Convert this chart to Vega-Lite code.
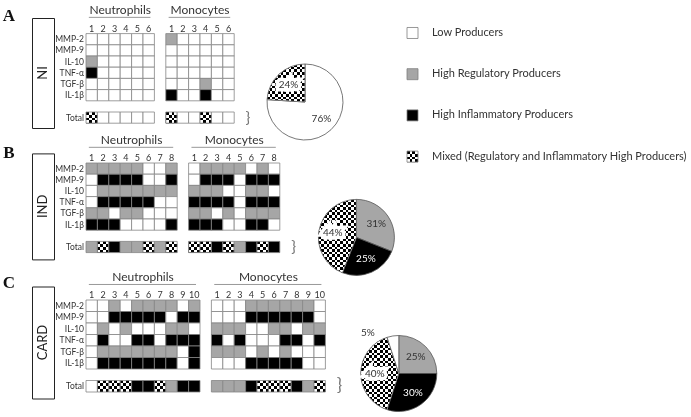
{
"$schema": "https://vega.github.io/schema/vega-lite/v6.json",
"padding": 0,
"config": {"view": {"stroke": null}, "font": "Lato", "text": {"font": "Lato"}},
"datasets": {
"legend": [{"v":"L","label":"Low Producers"},{"v":"R","label":"High Regulatory Producers"},{"v":"I","label":"High Inflammatory Producers"},{"v":"M","label":"Mixed (Regulatory and Inflammatory High Producers)"}],
"pies": [{"p":"A","v":"L","pct":0.76,"o":1},{"p":"A","v":"M","pct":0.24,"o":2},
{"p":"B","v":"R","pct":0.31,"o":1},{"p":"B","v":"I","pct":0.25,"o":2},{"p":"B","v":"M","pct":0.44,"o":3},
{"p":"C","v":"R","pct":0.25,"o":1},{"p":"C","v":"I","pct":0.30,"o":2},{"p":"C","v":"M","pct":0.40,"o":3},{"p":"C","v":"L","pct":0.05,"o":4}],
"cols": [
{"p":"A","c":"N1","n":"1"},{"p":"A","c":"N2","n":"2"},{"p":"A","c":"N3","n":"3"},{"p":"A","c":"N4","n":"4"},{"p":"A","c":"N5","n":"5"},{"p":"A","c":"N6","n":"6"},
{"p":"A","c":"M1","n":"1"},{"p":"A","c":"M2","n":"2"},{"p":"A","c":"M3","n":"3"},{"p":"A","c":"M4","n":"4"},{"p":"A","c":"M5","n":"5"},{"p":"A","c":"M6","n":"6"},
{"p":"B","c":"N1","n":"1"},{"p":"B","c":"N2","n":"2"},{"p":"B","c":"N3","n":"3"},{"p":"B","c":"N4","n":"4"},{"p":"B","c":"N5","n":"5"},{"p":"B","c":"N6","n":"6"},{"p":"B","c":"N7","n":"7"},{"p":"B","c":"N8","n":"8"},
{"p":"B","c":"M1","n":"1"},{"p":"B","c":"M2","n":"2"},{"p":"B","c":"M3","n":"3"},{"p":"B","c":"M4","n":"4"},{"p":"B","c":"M5","n":"5"},{"p":"B","c":"M6","n":"6"},{"p":"B","c":"M7","n":"7"},{"p":"B","c":"M8","n":"8"},
{"p":"C","c":"N1","n":"1"},{"p":"C","c":"N2","n":"2"},{"p":"C","c":"N3","n":"3"},{"p":"C","c":"N4","n":"4"},{"p":"C","c":"N5","n":"5"},{"p":"C","c":"N6","n":"6"},{"p":"C","c":"N7","n":"7"},{"p":"C","c":"N8","n":"8"},{"p":"C","c":"N9","n":"9"},{"p":"C","c":"N10","n":"10"},
{"p":"C","c":"M1","n":"1"},{"p":"C","c":"M2","n":"2"},{"p":"C","c":"M3","n":"3"},{"p":"C","c":"M4","n":"4"},{"p":"C","c":"M5","n":"5"},{"p":"C","c":"M6","n":"6"},{"p":"C","c":"M7","n":"7"},{"p":"C","c":"M8","n":"8"},{"p":"C","c":"M9","n":"9"},{"p":"C","c":"M10","n":"10"}
],
"cells": [
{"p":"A","c":"N1","r":"MMP-2","v":"L"},{"p":"A","c":"N2","r":"MMP-2","v":"L"},{"p":"A","c":"N3","r":"MMP-2","v":"L"},{"p":"A","c":"N4","r":"MMP-2","v":"L"},{"p":"A","c":"N5","r":"MMP-2","v":"L"},{"p":"A","c":"N6","r":"MMP-2","v":"L"},
{"p":"A","c":"N1","r":"MMP-9","v":"L"},{"p":"A","c":"N2","r":"MMP-9","v":"L"},{"p":"A","c":"N3","r":"MMP-9","v":"L"},{"p":"A","c":"N4","r":"MMP-9","v":"L"},{"p":"A","c":"N5","r":"MMP-9","v":"L"},{"p":"A","c":"N6","r":"MMP-9","v":"L"},
{"p":"A","c":"N1","r":"IL-10","v":"R"},{"p":"A","c":"N2","r":"IL-10","v":"L"},{"p":"A","c":"N3","r":"IL-10","v":"L"},{"p":"A","c":"N4","r":"IL-10","v":"L"},{"p":"A","c":"N5","r":"IL-10","v":"L"},{"p":"A","c":"N6","r":"IL-10","v":"L"},
{"p":"A","c":"N1","r":"TNF-α","v":"I"},{"p":"A","c":"N2","r":"TNF-α","v":"L"},{"p":"A","c":"N3","r":"TNF-α","v":"L"},{"p":"A","c":"N4","r":"TNF-α","v":"L"},{"p":"A","c":"N5","r":"TNF-α","v":"L"},{"p":"A","c":"N6","r":"TNF-α","v":"L"},
{"p":"A","c":"N1","r":"TGF-β","v":"L"},{"p":"A","c":"N2","r":"TGF-β","v":"L"},{"p":"A","c":"N3","r":"TGF-β","v":"L"},{"p":"A","c":"N4","r":"TGF-β","v":"L"},{"p":"A","c":"N5","r":"TGF-β","v":"L"},{"p":"A","c":"N6","r":"TGF-β","v":"L"},
{"p":"A","c":"N1","r":"IL-1β","v":"L"},{"p":"A","c":"N2","r":"IL-1β","v":"L"},{"p":"A","c":"N3","r":"IL-1β","v":"L"},{"p":"A","c":"N4","r":"IL-1β","v":"L"},{"p":"A","c":"N5","r":"IL-1β","v":"L"},{"p":"A","c":"N6","r":"IL-1β","v":"L"},
{"p":"A","c":"N1","r":"Total","v":"M"},{"p":"A","c":"N2","r":"Total","v":"L"},{"p":"A","c":"N3","r":"Total","v":"L"},{"p":"A","c":"N4","r":"Total","v":"L"},{"p":"A","c":"N5","r":"Total","v":"L"},{"p":"A","c":"N6","r":"Total","v":"L"},
{"p":"A","c":"M1","r":"MMP-2","v":"R"},{"p":"A","c":"M2","r":"MMP-2","v":"L"},{"p":"A","c":"M3","r":"MMP-2","v":"L"},{"p":"A","c":"M4","r":"MMP-2","v":"L"},{"p":"A","c":"M5","r":"MMP-2","v":"L"},{"p":"A","c":"M6","r":"MMP-2","v":"L"},
{"p":"A","c":"M1","r":"MMP-9","v":"L"},{"p":"A","c":"M2","r":"MMP-9","v":"L"},{"p":"A","c":"M3","r":"MMP-9","v":"L"},{"p":"A","c":"M4","r":"MMP-9","v":"L"},{"p":"A","c":"M5","r":"MMP-9","v":"L"},{"p":"A","c":"M6","r":"MMP-9","v":"L"},
{"p":"A","c":"M1","r":"IL-10","v":"L"},{"p":"A","c":"M2","r":"IL-10","v":"L"},{"p":"A","c":"M3","r":"IL-10","v":"L"},{"p":"A","c":"M4","r":"IL-10","v":"L"},{"p":"A","c":"M5","r":"IL-10","v":"L"},{"p":"A","c":"M6","r":"IL-10","v":"L"},
{"p":"A","c":"M1","r":"TNF-α","v":"L"},{"p":"A","c":"M2","r":"TNF-α","v":"L"},{"p":"A","c":"M3","r":"TNF-α","v":"L"},{"p":"A","c":"M4","r":"TNF-α","v":"L"},{"p":"A","c":"M5","r":"TNF-α","v":"L"},{"p":"A","c":"M6","r":"TNF-α","v":"L"},
{"p":"A","c":"M1","r":"TGF-β","v":"L"},{"p":"A","c":"M2","r":"TGF-β","v":"L"},{"p":"A","c":"M3","r":"TGF-β","v":"L"},{"p":"A","c":"M4","r":"TGF-β","v":"R"},{"p":"A","c":"M5","r":"TGF-β","v":"L"},{"p":"A","c":"M6","r":"TGF-β","v":"L"},
{"p":"A","c":"M1","r":"IL-1β","v":"I"},{"p":"A","c":"M2","r":"IL-1β","v":"L"},{"p":"A","c":"M3","r":"IL-1β","v":"L"},{"p":"A","c":"M4","r":"IL-1β","v":"I"},{"p":"A","c":"M5","r":"IL-1β","v":"L"},{"p":"A","c":"M6","r":"IL-1β","v":"L"},
{"p":"A","c":"M1","r":"Total","v":"M"},{"p":"A","c":"M2","r":"Total","v":"L"},{"p":"A","c":"M3","r":"Total","v":"L"},{"p":"A","c":"M4","r":"Total","v":"M"},{"p":"A","c":"M5","r":"Total","v":"L"},{"p":"A","c":"M6","r":"Total","v":"L"},
{"p":"B","c":"N1","r":"MMP-2","v":"R"},{"p":"B","c":"N2","r":"MMP-2","v":"R"},{"p":"B","c":"N3","r":"MMP-2","v":"R"},{"p":"B","c":"N4","r":"MMP-2","v":"R"},{"p":"B","c":"N5","r":"MMP-2","v":"R"},{"p":"B","c":"N6","r":"MMP-2","v":"L"},{"p":"B","c":"N7","r":"MMP-2","v":"L"},{"p":"B","c":"N8","r":"MMP-2","v":"R"},
{"p":"B","c":"N1","r":"MMP-9","v":"L"},{"p":"B","c":"N2","r":"MMP-9","v":"I"},{"p":"B","c":"N3","r":"MMP-9","v":"I"},{"p":"B","c":"N4","r":"MMP-9","v":"I"},{"p":"B","c":"N5","r":"MMP-9","v":"I"},{"p":"B","c":"N6","r":"MMP-9","v":"L"},{"p":"B","c":"N7","r":"MMP-9","v":"L"},{"p":"B","c":"N8","r":"MMP-9","v":"I"},
{"p":"B","c":"N1","r":"IL-10","v":"L"},{"p":"B","c":"N2","r":"IL-10","v":"R"},{"p":"B","c":"N3","r":"IL-10","v":"R"},{"p":"B","c":"N4","r":"IL-10","v":"R"},{"p":"B","c":"N5","r":"IL-10","v":"R"},{"p":"B","c":"N6","r":"IL-10","v":"R"},{"p":"B","c":"N7","r":"IL-10","v":"R"},{"p":"B","c":"N8","r":"IL-10","v":"R"},
{"p":"B","c":"N1","r":"TNF-α","v":"L"},{"p":"B","c":"N2","r":"TNF-α","v":"I"},{"p":"B","c":"N3","r":"TNF-α","v":"I"},{"p":"B","c":"N4","r":"TNF-α","v":"I"},{"p":"B","c":"N5","r":"TNF-α","v":"I"},{"p":"B","c":"N6","r":"TNF-α","v":"I"},{"p":"B","c":"N7","r":"TNF-α","v":"L"},{"p":"B","c":"N8","r":"TNF-α","v":"L"},
{"p":"B","c":"N1","r":"TGF-β","v":"R"},{"p":"B","c":"N2","r":"TGF-β","v":"R"},{"p":"B","c":"N3","r":"TGF-β","v":"L"},{"p":"B","c":"N4","r":"TGF-β","v":"R"},{"p":"B","c":"N5","r":"TGF-β","v":"R"},{"p":"B","c":"N6","r":"TGF-β","v":"L"},{"p":"B","c":"N7","r":"TGF-β","v":"L"},{"p":"B","c":"N8","r":"TGF-β","v":"L"},
{"p":"B","c":"N1","r":"IL-1β","v":"I"},{"p":"B","c":"N2","r":"IL-1β","v":"I"},{"p":"B","c":"N3","r":"IL-1β","v":"I"},{"p":"B","c":"N4","r":"IL-1β","v":"L"},{"p":"B","c":"N5","r":"IL-1β","v":"L"},{"p":"B","c":"N6","r":"IL-1β","v":"L"},{"p":"B","c":"N7","r":"IL-1β","v":"L"},{"p":"B","c":"N8","r":"IL-1β","v":"I"},
{"p":"B","c":"N1","r":"Total","v":"R"},{"p":"B","c":"N2","r":"Total","v":"M"},{"p":"B","c":"N3","r":"Total","v":"I"},{"p":"B","c":"N4","r":"Total","v":"R"},{"p":"B","c":"N5","r":"Total","v":"R"},{"p":"B","c":"N6","r":"Total","v":"M"},{"p":"B","c":"N7","r":"Total","v":"R"},{"p":"B","c":"N8","r":"Total","v":"M"},
{"p":"B","c":"M1","r":"MMP-2","v":"L"},{"p":"B","c":"M2","r":"MMP-2","v":"R"},{"p":"B","c":"M3","r":"MMP-2","v":"R"},{"p":"B","c":"M4","r":"MMP-2","v":"R"},{"p":"B","c":"M5","r":"MMP-2","v":"R"},{"p":"B","c":"M6","r":"MMP-2","v":"L"},{"p":"B","c":"M7","r":"MMP-2","v":"R"},{"p":"B","c":"M8","r":"MMP-2","v":"L"},
{"p":"B","c":"M1","r":"MMP-9","v":"L"},{"p":"B","c":"M2","r":"MMP-9","v":"I"},{"p":"B","c":"M3","r":"MMP-9","v":"I"},{"p":"B","c":"M4","r":"MMP-9","v":"I"},{"p":"B","c":"M5","r":"MMP-9","v":"L"},{"p":"B","c":"M6","r":"MMP-9","v":"I"},{"p":"B","c":"M7","r":"MMP-9","v":"I"},{"p":"B","c":"M8","r":"MMP-9","v":"I"},
{"p":"B","c":"M1","r":"IL-10","v":"R"},{"p":"B","c":"M2","r":"IL-10","v":"R"},{"p":"B","c":"M3","r":"IL-10","v":"R"},{"p":"B","c":"M4","r":"IL-10","v":"L"},{"p":"B","c":"M5","r":"IL-10","v":"L"},{"p":"B","c":"M6","r":"IL-10","v":"R"},{"p":"B","c":"M7","r":"IL-10","v":"R"},{"p":"B","c":"M8","r":"IL-10","v":"L"},
{"p":"B","c":"M1","r":"TNF-α","v":"I"},{"p":"B","c":"M2","r":"TNF-α","v":"I"},{"p":"B","c":"M3","r":"TNF-α","v":"I"},{"p":"B","c":"M4","r":"TNF-α","v":"I"},{"p":"B","c":"M5","r":"TNF-α","v":"L"},{"p":"B","c":"M6","r":"TNF-α","v":"I"},{"p":"B","c":"M7","r":"TNF-α","v":"I"},{"p":"B","c":"M8","r":"TNF-α","v":"I"},
{"p":"B","c":"M1","r":"TGF-β","v":"R"},{"p":"B","c":"M2","r":"TGF-β","v":"R"},{"p":"B","c":"M3","r":"TGF-β","v":"L"},{"p":"B","c":"M4","r":"TGF-β","v":"R"},{"p":"B","c":"M5","r":"TGF-β","v":"L"},{"p":"B","c":"M6","r":"TGF-β","v":"R"},{"p":"B","c":"M7","r":"TGF-β","v":"R"},{"p":"B","c":"M8","r":"TGF-β","v":"R"},
{"p":"B","c":"M1","r":"IL-1β","v":"I"},{"p":"B","c":"M2","r":"IL-1β","v":"I"},{"p":"B","c":"M3","r":"IL-1β","v":"I"},{"p":"B","c":"M4","r":"IL-1β","v":"L"},{"p":"B","c":"M5","r":"IL-1β","v":"L"},{"p":"B","c":"M6","r":"IL-1β","v":"I"},{"p":"B","c":"M7","r":"IL-1β","v":"I"},{"p":"B","c":"M8","r":"IL-1β","v":"L"},
{"p":"B","c":"M1","r":"Total","v":"M"},{"p":"B","c":"M2","r":"Total","v":"M"},{"p":"B","c":"M3","r":"Total","v":"I"},{"p":"B","c":"M4","r":"Total","v":"M"},{"p":"B","c":"M5","r":"Total","v":"R"},{"p":"B","c":"M6","r":"Total","v":"I"},{"p":"B","c":"M7","r":"Total","v":"M"},{"p":"B","c":"M8","r":"Total","v":"I"},
{"p":"C","c":"N1","r":"MMP-2","v":"L"},{"p":"C","c":"N2","r":"MMP-2","v":"L"},{"p":"C","c":"N3","r":"MMP-2","v":"R"},{"p":"C","c":"N4","r":"MMP-2","v":"L"},{"p":"C","c":"N5","r":"MMP-2","v":"R"},{"p":"C","c":"N6","r":"MMP-2","v":"R"},{"p":"C","c":"N7","r":"MMP-2","v":"R"},{"p":"C","c":"N8","r":"MMP-2","v":"R"},{"p":"C","c":"N9","r":"MMP-2","v":"L"},{"p":"C","c":"N10","r":"MMP-2","v":"R"},
{"p":"C","c":"N1","r":"MMP-9","v":"L"},{"p":"C","c":"N2","r":"MMP-9","v":"L"},{"p":"C","c":"N3","r":"MMP-9","v":"I"},{"p":"C","c":"N4","r":"MMP-9","v":"I"},{"p":"C","c":"N5","r":"MMP-9","v":"I"},{"p":"C","c":"N6","r":"MMP-9","v":"I"},{"p":"C","c":"N7","r":"MMP-9","v":"I"},{"p":"C","c":"N8","r":"MMP-9","v":"L"},{"p":"C","c":"N9","r":"MMP-9","v":"I"},{"p":"C","c":"N10","r":"MMP-9","v":"I"},
{"p":"C","c":"N1","r":"IL-10","v":"L"},{"p":"C","c":"N2","r":"IL-10","v":"R"},{"p":"C","c":"N3","r":"IL-10","v":"L"},{"p":"C","c":"N4","r":"IL-10","v":"R"},{"p":"C","c":"N5","r":"IL-10","v":"L"},{"p":"C","c":"N6","r":"IL-10","v":"L"},{"p":"C","c":"N7","r":"IL-10","v":"L"},{"p":"C","c":"N8","r":"IL-10","v":"R"},{"p":"C","c":"N9","r":"IL-10","v":"R"},{"p":"C","c":"N10","r":"IL-10","v":"L"},
{"p":"C","c":"N1","r":"TNF-α","v":"L"},{"p":"C","c":"N2","r":"TNF-α","v":"I"},{"p":"C","c":"N3","r":"TNF-α","v":"L"},{"p":"C","c":"N4","r":"TNF-α","v":"L"},{"p":"C","c":"N5","r":"TNF-α","v":"I"},{"p":"C","c":"N6","r":"TNF-α","v":"I"},{"p":"C","c":"N7","r":"TNF-α","v":"L"},{"p":"C","c":"N8","r":"TNF-α","v":"I"},{"p":"C","c":"N9","r":"TNF-α","v":"I"},{"p":"C","c":"N10","r":"TNF-α","v":"I"},
{"p":"C","c":"N1","r":"TGF-β","v":"L"},{"p":"C","c":"N2","r":"TGF-β","v":"R"},{"p":"C","c":"N3","r":"TGF-β","v":"R"},{"p":"C","c":"N4","r":"TGF-β","v":"R"},{"p":"C","c":"N5","r":"TGF-β","v":"R"},{"p":"C","c":"N6","r":"TGF-β","v":"R"},{"p":"C","c":"N7","r":"TGF-β","v":"R"},{"p":"C","c":"N8","r":"TGF-β","v":"R"},{"p":"C","c":"N9","r":"TGF-β","v":"L"},{"p":"C","c":"N10","r":"TGF-β","v":"I"},
{"p":"C","c":"N1","r":"IL-1β","v":"L"},{"p":"C","c":"N2","r":"IL-1β","v":"I"},{"p":"C","c":"N3","r":"IL-1β","v":"I"},{"p":"C","c":"N4","r":"IL-1β","v":"I"},{"p":"C","c":"N5","r":"IL-1β","v":"I"},{"p":"C","c":"N6","r":"IL-1β","v":"I"},{"p":"C","c":"N7","r":"IL-1β","v":"I"},{"p":"C","c":"N8","r":"IL-1β","v":"I"},{"p":"C","c":"N9","r":"IL-1β","v":"L"},{"p":"C","c":"N10","r":"IL-1β","v":"I"},
{"p":"C","c":"N1","r":"Total","v":"L"},{"p":"C","c":"N2","r":"Total","v":"M"},{"p":"C","c":"N3","r":"Total","v":"M"},{"p":"C","c":"N4","r":"Total","v":"M"},{"p":"C","c":"N5","r":"Total","v":"I"},{"p":"C","c":"N6","r":"Total","v":"I"},{"p":"C","c":"N7","r":"Total","v":"M"},{"p":"C","c":"N8","r":"Total","v":"R"},{"p":"C","c":"N9","r":"Total","v":"I"},{"p":"C","c":"N10","r":"Total","v":"I"},
{"p":"C","c":"M1","r":"MMP-2","v":"L"},{"p":"C","c":"M2","r":"MMP-2","v":"L"},{"p":"C","c":"M3","r":"MMP-2","v":"L"},{"p":"C","c":"M4","r":"MMP-2","v":"R"},{"p":"C","c":"M5","r":"MMP-2","v":"R"},{"p":"C","c":"M6","r":"MMP-2","v":"R"},{"p":"C","c":"M7","r":"MMP-2","v":"R"},{"p":"C","c":"M8","r":"MMP-2","v":"R"},{"p":"C","c":"M9","r":"MMP-2","v":"R"},{"p":"C","c":"M10","r":"MMP-2","v":"L"},
{"p":"C","c":"M1","r":"MMP-9","v":"L"},{"p":"C","c":"M2","r":"MMP-9","v":"L"},{"p":"C","c":"M3","r":"MMP-9","v":"L"},{"p":"C","c":"M4","r":"MMP-9","v":"I"},{"p":"C","c":"M5","r":"MMP-9","v":"I"},{"p":"C","c":"M6","r":"MMP-9","v":"I"},{"p":"C","c":"M7","r":"MMP-9","v":"I"},{"p":"C","c":"M8","r":"MMP-9","v":"I"},{"p":"C","c":"M9","r":"MMP-9","v":"I"},{"p":"C","c":"M10","r":"MMP-9","v":"L"},
{"p":"C","c":"M1","r":"IL-10","v":"R"},{"p":"C","c":"M2","r":"IL-10","v":"R"},{"p":"C","c":"M3","r":"IL-10","v":"R"},{"p":"C","c":"M4","r":"IL-10","v":"L"},{"p":"C","c":"M5","r":"IL-10","v":"L"},{"p":"C","c":"M6","r":"IL-10","v":"R"},{"p":"C","c":"M7","r":"IL-10","v":"R"},{"p":"C","c":"M8","r":"IL-10","v":"L"},{"p":"C","c":"M9","r":"IL-10","v":"R"},{"p":"C","c":"M10","r":"IL-10","v":"R"},
{"p":"C","c":"M1","r":"TNF-α","v":"I"},{"p":"C","c":"M2","r":"TNF-α","v":"L"},{"p":"C","c":"M3","r":"TNF-α","v":"I"},{"p":"C","c":"M4","r":"TNF-α","v":"L"},{"p":"C","c":"M5","r":"TNF-α","v":"L"},{"p":"C","c":"M6","r":"TNF-α","v":"L"},{"p":"C","c":"M7","r":"TNF-α","v":"I"},{"p":"C","c":"M8","r":"TNF-α","v":"I"},{"p":"C","c":"M9","r":"TNF-α","v":"L"},{"p":"C","c":"M10","r":"TNF-α","v":"I"},
{"p":"C","c":"M1","r":"TGF-β","v":"R"},{"p":"C","c":"M2","r":"TGF-β","v":"R"},{"p":"C","c":"M3","r":"TGF-β","v":"R"},{"p":"C","c":"M4","r":"TGF-β","v":"L"},{"p":"C","c":"M5","r":"TGF-β","v":"R"},{"p":"C","c":"M6","r":"TGF-β","v":"L"},{"p":"C","c":"M7","r":"TGF-β","v":"R"},{"p":"C","c":"M8","r":"TGF-β","v":"L"},{"p":"C","c":"M9","r":"TGF-β","v":"L"},{"p":"C","c":"M10","r":"TGF-β","v":"L"},
{"p":"C","c":"M1","r":"IL-1β","v":"L"},{"p":"C","c":"M2","r":"IL-1β","v":"L"},{"p":"C","c":"M3","r":"IL-1β","v":"L"},{"p":"C","c":"M4","r":"IL-1β","v":"I"},{"p":"C","c":"M5","r":"IL-1β","v":"I"},{"p":"C","c":"M6","r":"IL-1β","v":"I"},{"p":"C","c":"M7","r":"IL-1β","v":"I"},{"p":"C","c":"M8","r":"IL-1β","v":"I"},{"p":"C","c":"M9","r":"IL-1β","v":"L"},{"p":"C","c":"M10","r":"IL-1β","v":"L"},
{"p":"C","c":"M1","r":"Total","v":"R"},{"p":"C","c":"M2","r":"Total","v":"R"},{"p":"C","c":"M3","r":"Total","v":"R"},{"p":"C","c":"M4","r":"Total","v":"I"},{"p":"C","c":"M5","r":"Total","v":"M"},{"p":"C","c":"M6","r":"Total","v":"M"},{"p":"C","c":"M7","r":"Total","v":"M"},{"p":"C","c":"M8","r":"Total","v":"I"},{"p":"C","c":"M9","r":"Total","v":"R"},{"p":"C","c":"M10","r":"Total","v":"M"}
]
},
"vconcat": [
 {"hconcat": [
  {"width": 31, "height": 32, "data": {"values": [{"lab": "A"}]}, "mark": {"type": "text", "font": "Liberation Serif", "fontWeight": "bold", "fontSize": 17, "dx": -6.5, "baseline": "middle", "align": "center", "fill": "#111"}, "encoding": {"text": {"field": "lab"}}},
  {"vconcat": [
   {"width": 22, "height": 17, "data": {"values": []}, "mark": "point"},
   {"width": 22, "height": 110, "view": {"stroke": "#222", "strokeWidth": 1}, "data": {"values": [{"lab": "NI"}]}, "mark": {"type": "text", "angle": 270, "fontSize": 13, "fill": "#222", "baseline": "middle", "align": "center"}, "encoding": {"text": {"field": "lab"}}}
  ], "spacing": 0},
  {"width": 30, "height": {"step": 11.2}, "data": {"name": "cells"}, "transform": [{"filter": "datum.p === 'A' && datum.c === 'N1'"}],
   "mark": {"type": "text", "align": "right", "baseline": "middle", "dx": -1, "fontSize": 8.5, "fill": "#333"},
   "encoding": {"x": {"value": "width"}, "y": {"field": "r", "type": "nominal", "scale": {"type": "band", "domain": ["t0","t","n","MMP-2","MMP-9","IL-10","TNF-α","TGF-β","IL-1β","sp","Total"], "paddingInner": 0, "paddingOuter": 0}, "axis": null}, "text": {"field": "r"}}},
  {"width": {"step": 11.4}, "height": {"step": 11.2},
   "data": {"name": "cells"},
   "encoding": {
    "x": {"field": "c", "type": "nominal", "scale": {"domain": ["N1","N2","N3","N4","N5","N6","g","M1","M2","M3","M4","M5","M6","br0","br"], "paddingInner": 0, "paddingOuter": 0}, "axis": null},
    "y": {"field": "r", "type": "nominal", "scale": {"type": "band", "domain": ["t0","t","n","MMP-2","MMP-9","IL-10","TNF-α","TGF-β","IL-1β","sp","Total"], "paddingInner": 0, "paddingOuter": 0}, "axis": null}
   },
   "layer": [
    {"transform": [{"filter": "datum.p === 'A'"}], "mark": {"type": "rect", "stroke": "#858585", "strokeWidth": 0.8},
     "encoding": {"fill": {"field": "v", "type": "nominal", "legend": null, "scale": {"domain": ["L","R","I","M"], "range": ["#ffffff","#a6a6a6","#000000","#000000"]},
       "condition": {"test": "datum.v === 'M'", "value": {"gradient": "linear", "x1": 0, "y1": 0, "x2": 1, "y2": 0, "stops": [{"offset":0,"color":"#000"},{"offset":0.25,"color":"#000"},{"offset":0.25,"color":"#fff"},{"offset":0.5,"color":"#fff"},{"offset":0.5,"color":"#000"},{"offset":0.75,"color":"#000"},{"offset":0.75,"color":"#fff"},{"offset":1,"color":"#fff"}]}}}}},
    {"transform": [{"filter": "datum.p === 'A' && datum.v === 'M'"}], "mark": {"type": "rect", "blend": "difference", "strokeWidth": 0},
     "encoding": {"fill": {"value": {"gradient": "linear", "x1": 0, "y1": 0, "x2": 0, "y2": 1, "stops": [{"offset":0,"color":"#000"},{"offset":0.25,"color":"#000"},{"offset":0.25,"color":"#fff"},{"offset":0.5,"color":"#fff"},{"offset":0.5,"color":"#000"},{"offset":0.75,"color":"#000"},{"offset":0.75,"color":"#fff"},{"offset":1,"color":"#fff"}]}}}},
    {"data": {"name": "cols"}, "transform": [{"filter": "datum.p === 'A'"}], "mark": {"type": "text", "fontSize": 9, "fill": "#333", "baseline": "middle"}, "encoding": {"y": {"datum": "n", "bandPosition": 0.55, "axis": null}, "text": {"field": "n"}}},
    {"data": {"values": [{"label": "Neutrophils", "mid": "N3", "from": "N1", "to": "N6"}, {"label": "Monocytes", "mid": "M3", "from": "M1", "to": "M6"}]},
     "layer": [
      {"mark": {"type": "text", "fontSize": 12, "baseline": "alphabetic", "dy": -3.2, "fill": "#333"}, "encoding": {"x": {"field": "mid", "type": "nominal", "bandPosition": 1, "axis": null}, "y": {"datum": "t", "bandPosition": 0.55, "axis": null}, "text": {"field": "label"}}},
      {"mark": {"type": "rule", "stroke": "#999", "strokeWidth": 1}, "encoding": {"x": {"field": "from", "type": "nominal", "bandPosition": 0.25, "axis": null}, "x2": {"field": "to", "bandPosition": 0.65}, "y": {"datum": "t", "bandPosition": 0.55, "axis": null}}}
     ]},
    {"data": {"values": [{"b": "}"}]}, "mark": {"type": "text", "fontSize": 16, "fill": "#777", "align": "left", "baseline": "middle"}, "encoding": {"x": {"datum": "br", "bandPosition": 0, "axis": null}, "y": {"datum": "Total", "bandPosition": 0.5, "axis": null}, "text": {"field": "b"}}}
   ]},
  {"vconcat": [
   {"width": 96, "height": 62, "data": {"values": []}, "mark": "point"},
   {"width": 96, "height": 76, "data": {"name": "pies"}, "transform": [{"filter": "datum.p === 'A'"}],
    "encoding": {"theta": {"field": "pct", "type": "quantitative", "stack": true}, "order": {"field": "o", "type": "quantitative"}},
    "layer": [
     {"mark": {"type": "arc", "outerRadius": 38, "stroke": "#555", "strokeWidth": 0.8},
      "encoding": {"fill": {"field": "v", "type": "nominal", "legend": null, "scale": {"domain": ["L","R","I","M"], "range": ["#ffffff","#a6a6a6","#000000","#000000"]},
        "condition": {"test": "datum.v === 'M'", "value": {"gradient": "linear", "x1": 0, "y1": 0, "x2": 1, "y2": 0, "stops": [{"offset":0,"color":"#000"},{"offset":0.0714,"color":"#000"},{"offset":0.0714,"color":"#fff"},{"offset":0.1429,"color":"#fff"},{"offset":0.1429,"color":"#000"},{"offset":0.2143,"color":"#000"},{"offset":0.2143,"color":"#fff"},{"offset":0.2857,"color":"#fff"},{"offset":0.2857,"color":"#000"},{"offset":0.3571,"color":"#000"},{"offset":0.3571,"color":"#fff"},{"offset":0.4286,"color":"#fff"},{"offset":0.4286,"color":"#000"},{"offset":0.5,"color":"#000"},{"offset":0.5,"color":"#fff"},{"offset":0.5714,"color":"#fff"},{"offset":0.5714,"color":"#000"},{"offset":0.6429,"color":"#000"},{"offset":0.6429,"color":"#fff"},{"offset":0.7143,"color":"#fff"},{"offset":0.7143,"color":"#000"},{"offset":0.7857,"color":"#000"},{"offset":0.7857,"color":"#fff"},{"offset":0.8571,"color":"#fff"},{"offset":0.8571,"color":"#000"},{"offset":0.9286,"color":"#000"},{"offset":0.9286,"color":"#fff"},{"offset":1,"color":"#fff"}]}}}}},
     {"mark": {"type": "arc", "outerRadius": 38, "blend": "difference", "strokeWidth": 0},
      "encoding": {"fill": {"condition": {"test": "datum.v === 'M'", "value": {"gradient": "linear", "x1": 0, "y1": 0, "x2": 0, "y2": 1, "stops": [{"offset":0,"color":"#000"},{"offset":0.0714,"color":"#000"},{"offset":0.0714,"color":"#fff"},{"offset":0.1429,"color":"#fff"},{"offset":0.1429,"color":"#000"},{"offset":0.2143,"color":"#000"},{"offset":0.2143,"color":"#fff"},{"offset":0.2857,"color":"#fff"},{"offset":0.2857,"color":"#000"},{"offset":0.3571,"color":"#000"},{"offset":0.3571,"color":"#fff"},{"offset":0.4286,"color":"#fff"},{"offset":0.4286,"color":"#000"},{"offset":0.5,"color":"#000"},{"offset":0.5,"color":"#fff"},{"offset":0.5714,"color":"#fff"},{"offset":0.5714,"color":"#000"},{"offset":0.6429,"color":"#000"},{"offset":0.6429,"color":"#fff"},{"offset":0.7143,"color":"#fff"},{"offset":0.7143,"color":"#000"},{"offset":0.7857,"color":"#000"},{"offset":0.7857,"color":"#fff"},{"offset":0.8571,"color":"#fff"},{"offset":0.8571,"color":"#000"},{"offset":0.9286,"color":"#000"},{"offset":0.9286,"color":"#fff"},{"offset":1,"color":"#fff"}]}}, "value": "transparent"}}},
     {"mark": {"type": "text", "radius": 24, "fontSize": 10, "fill": "#fff", "stroke": "#fff", "strokeWidth": 7}, "encoding": {"text": {"field": "pct", "type": "quantitative", "format": ".0%"}, "opacity": {"condition": {"test": "datum.v === 'M'", "value": 1}, "value": 0}}},
     {"mark": {"type": "text", "radius": 24, "fontSize": 10}, "encoding": {"text": {"field": "pct", "type": "quantitative", "format": ".0%"}, "fill": {"condition": {"test": "datum.v === 'I'", "value": "#ffffff"}, "value": "#333333"}}}
    ]}
  ], "spacing": 0},
  {"vconcat": [
   {"width": 119, "height": 12, "data": {"values": []}, "mark": "point"},
   {"width": 119, "height": {"step": 41.2}, "data": {"name": "legend"},
    "encoding": {"y": {"field": "v", "type": "nominal", "scale": {"type": "band", "domain": ["L","R","I","M"], "paddingInner": 0.733, "paddingOuter": 0.376}, "axis": null}},
    "layer": [
     {"mark": {"type": "point", "shape": "square", "size": 121, "filled": true, "opacity": 1, "stroke": "#7f7f7f", "strokeWidth": 0.8},
      "encoding": {"fill": {"field": "v", "type": "nominal", "legend": null, "scale": {"domain": ["L","R","I","M"], "range": ["#ffffff","#a6a6a6","#000000","#000000"]},
        "condition": {"test": "datum.v === 'M'", "value": {"gradient": "linear", "x1": 0, "y1": 0, "x2": 1, "y2": 0, "stops": [{"offset":0,"color":"#000"},{"offset":0.25,"color":"#000"},{"offset":0.25,"color":"#fff"},{"offset":0.5,"color":"#fff"},{"offset":0.5,"color":"#000"},{"offset":0.75,"color":"#000"},{"offset":0.75,"color":"#fff"},{"offset":1,"color":"#fff"}]}}}}},
     {"transform": [{"filter": "datum.v === 'M'"}], "mark": {"type": "point", "shape": "square", "size": 121, "filled": true, "opacity": 1, "blend": "difference", "strokeWidth": 0},
      "encoding": {"fill": {"value": {"gradient": "linear", "x1": 0, "y1": 0, "x2": 0, "y2": 1, "stops": [{"offset":0,"color":"#000"},{"offset":0.25,"color":"#000"},{"offset":0.25,"color":"#fff"},{"offset":0.5,"color":"#fff"},{"offset":0.5,"color":"#000"},{"offset":0.75,"color":"#000"},{"offset":0.75,"color":"#fff"},{"offset":1,"color":"#fff"}]}}}},
     {"mark": {"type": "text", "align": "left", "dx": 19.5, "fontSize": 11, "fill": "#333", "baseline": "middle"}, "encoding": {"text": {"field": "label"}}}
    ]}
  ], "spacing": 0}
 ], "spacing": 0},
 {"vconcat": [
 {"hconcat": [
  {"width": 31, "height": 46.2, "data": {"values": [{"lab": "B"}]}, "mark": {"type": "text", "font": "Liberation Serif", "fontWeight": "bold", "fontSize": 17, "dx": -6.5, "baseline": "middle", "align": "center", "fill": "#111"}, "encoding": {"text": {"field": "lab"}}},
  {"vconcat": [
   {"width": 22, "height": 22.6, "data": {"values": []}, "mark": "point"},
   {"width": 22, "height": 106, "view": {"stroke": "#222", "strokeWidth": 1}, "data": {"values": [{"lab": "IND"}]}, "mark": {"type": "text", "angle": 270, "fontSize": 13, "fill": "#222", "baseline": "middle", "align": "center"}, "encoding": {"text": {"field": "lab"}}}
  ], "spacing": 0},
  {"width": 30, "height": {"step": 11.2}, "data": {"name": "cells"}, "transform": [{"filter": "datum.p === 'B' && datum.c === 'N1'"}],
   "mark": {"type": "text", "align": "right", "baseline": "middle", "dx": -1, "fontSize": 8.5, "fill": "#333"},
   "encoding": {"x": {"value": "width"}, "y": {"field": "r", "type": "nominal", "scale": {"type": "band", "domain": ["t0","t","n","MMP-2","MMP-9","IL-10","TNF-α","TGF-β","IL-1β","sp","Total"], "paddingInner": 0, "paddingOuter": 0}, "axis": null}, "text": {"field": "r"}}},
  {"width": {"step": 11.4}, "height": {"step": 11.2},
   "data": {"name": "cells"},
   "encoding": {
    "x": {"field": "c", "type": "nominal", "scale": {"domain": ["N1","N2","N3","N4","N5","N6","N7","N8","g","M1","M2","M3","M4","M5","M6","M7","M8","br0","br"], "paddingInner": 0, "paddingOuter": 0}, "axis": null},
    "y": {"field": "r", "type": "nominal", "scale": {"type": "band", "domain": ["t0","t","n","MMP-2","MMP-9","IL-10","TNF-α","TGF-β","IL-1β","sp","Total"], "paddingInner": 0, "paddingOuter": 0}, "axis": null}
   },
   "layer": [
    {"transform": [{"filter": "datum.p === 'B'"}], "mark": {"type": "rect", "stroke": "#858585", "strokeWidth": 0.8},
     "encoding": {"fill": {"field": "v", "type": "nominal", "legend": null, "scale": {"domain": ["L","R","I","M"], "range": ["#ffffff","#a6a6a6","#000000","#000000"]},
       "condition": {"test": "datum.v === 'M'", "value": {"gradient": "linear", "x1": 0, "y1": 0, "x2": 1, "y2": 0, "stops": [{"offset":0,"color":"#000"},{"offset":0.25,"color":"#000"},{"offset":0.25,"color":"#fff"},{"offset":0.5,"color":"#fff"},{"offset":0.5,"color":"#000"},{"offset":0.75,"color":"#000"},{"offset":0.75,"color":"#fff"},{"offset":1,"color":"#fff"}]}}}}},
    {"transform": [{"filter": "datum.p === 'B' && datum.v === 'M'"}], "mark": {"type": "rect", "blend": "difference", "strokeWidth": 0},
     "encoding": {"fill": {"value": {"gradient": "linear", "x1": 0, "y1": 0, "x2": 0, "y2": 1, "stops": [{"offset":0,"color":"#000"},{"offset":0.25,"color":"#000"},{"offset":0.25,"color":"#fff"},{"offset":0.5,"color":"#fff"},{"offset":0.5,"color":"#000"},{"offset":0.75,"color":"#000"},{"offset":0.75,"color":"#fff"},{"offset":1,"color":"#fff"}]}}}},
    {"data": {"name": "cols"}, "transform": [{"filter": "datum.p === 'B'"}], "mark": {"type": "text", "fontSize": 9, "fill": "#333", "baseline": "middle"}, "encoding": {"y": {"datum": "n", "bandPosition": 0.55, "axis": null}, "text": {"field": "n"}}},
    {"data": {"values": [{"label": "Neutrophils", "mid": "N4", "from": "N1", "to": "N8"}, {"label": "Monocytes", "mid": "M4", "from": "M1", "to": "M8"}]},
     "layer": [
      {"mark": {"type": "text", "fontSize": 12, "baseline": "alphabetic", "dy": -3.2, "fill": "#333"}, "encoding": {"x": {"field": "mid", "type": "nominal", "bandPosition": 1, "axis": null}, "y": {"datum": "t", "bandPosition": 0.6, "axis": null}, "text": {"field": "label"}}},
      {"mark": {"type": "rule", "stroke": "#999", "strokeWidth": 1}, "encoding": {"x": {"field": "from", "type": "nominal", "bandPosition": 0.25, "axis": null}, "x2": {"field": "to", "bandPosition": 0.65}, "y": {"datum": "t", "bandPosition": 0.6, "axis": null}}}
     ]},
    {"data": {"values": [{"b": "}"}]}, "mark": {"type": "text", "fontSize": 16, "fill": "#777", "align": "left", "baseline": "middle"}, "encoding": {"x": {"datum": "br", "bandPosition": 0, "axis": null}, "y": {"datum": "Total", "bandPosition": 0.5, "axis": null}, "text": {"field": "b"}}}
   ]},
  {"vconcat": [
   {"width": 106.8, "height": 67.6, "data": {"values": []}, "mark": "point"},
   {"width": 106.8, "height": 76, "data": {"name": "pies"}, "transform": [{"filter": "datum.p === 'B'"}],
    "encoding": {"theta": {"field": "pct", "type": "quantitative", "stack": true}, "order": {"field": "o", "type": "quantitative"}},
    "layer": [
     {"mark": {"type": "arc", "outerRadius": 38, "stroke": "#555", "strokeWidth": 0.8},
      "encoding": {"fill": {"field": "v", "type": "nominal", "legend": null, "scale": {"domain": ["L","R","I","M"], "range": ["#ffffff","#a6a6a6","#000000","#000000"]},
        "condition": {"test": "datum.v === 'M'", "value": {"gradient": "linear", "x1": 0, "y1": 0, "x2": 1, "y2": 0, "stops": [{"offset":0,"color":"#000"},{"offset":0.0714,"color":"#000"},{"offset":0.0714,"color":"#fff"},{"offset":0.1429,"color":"#fff"},{"offset":0.1429,"color":"#000"},{"offset":0.2143,"color":"#000"},{"offset":0.2143,"color":"#fff"},{"offset":0.2857,"color":"#fff"},{"offset":0.2857,"color":"#000"},{"offset":0.3571,"color":"#000"},{"offset":0.3571,"color":"#fff"},{"offset":0.4286,"color":"#fff"},{"offset":0.4286,"color":"#000"},{"offset":0.5,"color":"#000"},{"offset":0.5,"color":"#fff"},{"offset":0.5714,"color":"#fff"},{"offset":0.5714,"color":"#000"},{"offset":0.6429,"color":"#000"},{"offset":0.6429,"color":"#fff"},{"offset":0.7143,"color":"#fff"},{"offset":0.7143,"color":"#000"},{"offset":0.7857,"color":"#000"},{"offset":0.7857,"color":"#fff"},{"offset":0.8571,"color":"#fff"},{"offset":0.8571,"color":"#000"},{"offset":0.9286,"color":"#000"},{"offset":0.9286,"color":"#fff"},{"offset":1,"color":"#fff"}]}}}}},
     {"mark": {"type": "arc", "outerRadius": 38, "blend": "difference", "strokeWidth": 0},
      "encoding": {"fill": {"condition": {"test": "datum.v === 'M'", "value": {"gradient": "linear", "x1": 0, "y1": 0, "x2": 0, "y2": 1, "stops": [{"offset":0,"color":"#000"},{"offset":0.0357,"color":"#000"},{"offset":0.0357,"color":"#fff"},{"offset":0.0714,"color":"#fff"},{"offset":0.0714,"color":"#000"},{"offset":0.1071,"color":"#000"},{"offset":0.1071,"color":"#fff"},{"offset":0.1429,"color":"#fff"},{"offset":0.1429,"color":"#000"},{"offset":0.1786,"color":"#000"},{"offset":0.1786,"color":"#fff"},{"offset":0.2143,"color":"#fff"},{"offset":0.2143,"color":"#000"},{"offset":0.25,"color":"#000"},{"offset":0.25,"color":"#fff"},{"offset":0.2857,"color":"#fff"},{"offset":0.2857,"color":"#000"},{"offset":0.3214,"color":"#000"},{"offset":0.3214,"color":"#fff"},{"offset":0.3571,"color":"#fff"},{"offset":0.3571,"color":"#000"},{"offset":0.3929,"color":"#000"},{"offset":0.3929,"color":"#fff"},{"offset":0.4286,"color":"#fff"},{"offset":0.4286,"color":"#000"},{"offset":0.4643,"color":"#000"},{"offset":0.4643,"color":"#fff"},{"offset":0.5,"color":"#fff"},{"offset":0.5,"color":"#000"},{"offset":0.5357,"color":"#000"},{"offset":0.5357,"color":"#fff"},{"offset":0.5714,"color":"#fff"},{"offset":0.5714,"color":"#000"},{"offset":0.6071,"color":"#000"},{"offset":0.6071,"color":"#fff"},{"offset":0.6429,"color":"#fff"},{"offset":0.6429,"color":"#000"},{"offset":0.6786,"color":"#000"},{"offset":0.6786,"color":"#fff"},{"offset":0.7143,"color":"#fff"},{"offset":0.7143,"color":"#000"},{"offset":0.75,"color":"#000"},{"offset":0.75,"color":"#fff"},{"offset":0.7857,"color":"#fff"},{"offset":0.7857,"color":"#000"},{"offset":0.8214,"color":"#000"},{"offset":0.8214,"color":"#fff"},{"offset":0.8571,"color":"#fff"},{"offset":0.8571,"color":"#000"},{"offset":0.8929,"color":"#000"},{"offset":0.8929,"color":"#fff"},{"offset":0.9286,"color":"#fff"},{"offset":0.9286,"color":"#000"},{"offset":0.9643,"color":"#000"},{"offset":0.9643,"color":"#fff"},{"offset":1,"color":"#fff"}]}}, "value": "transparent"}}},
     {"mark": {"type": "text", "radius": 24, "fontSize": 10, "fill": "#fff", "stroke": "#fff", "strokeWidth": 7}, "encoding": {"text": {"field": "pct", "type": "quantitative", "format": ".0%"}, "opacity": {"condition": {"test": "datum.v === 'M'", "value": 1}, "value": 0}}},
     {"mark": {"type": "text", "radius": 24, "fontSize": 10}, "encoding": {"text": {"field": "pct", "type": "quantitative", "format": ".0%"}, "fill": {"condition": {"test": "datum.v === 'I'", "value": "#ffffff"}, "value": "#333333"}}}
    ]}
  ], "spacing": 0}
 ], "spacing": 0},
 {"hconcat": [
  {"width": 31, "height": 35, "data": {"values": [{"lab": "C"}]}, "mark": {"type": "text", "font": "Liberation Serif", "fontWeight": "bold", "fontSize": 17, "dx": -6.5, "baseline": "middle", "align": "center", "fill": "#111"}, "encoding": {"text": {"field": "lab"}}},
  {"vconcat": [
   {"width": 22, "height": 19.5, "data": {"values": []}, "mark": "point"},
   {"width": 22, "height": 112, "view": {"stroke": "#222", "strokeWidth": 1}, "data": {"values": [{"lab": "CARD"}]}, "mark": {"type": "text", "angle": 270, "fontSize": 13, "fill": "#222", "baseline": "middle", "align": "center"}, "encoding": {"text": {"field": "lab"}}}
  ], "spacing": 0},
  {"width": 30, "height": {"step": 11.5}, "data": {"name": "cells"}, "transform": [{"filter": "datum.p === 'C' && datum.c === 'N1'"}],
   "mark": {"type": "text", "align": "right", "baseline": "middle", "dx": -1, "fontSize": 8.5, "fill": "#333"},
   "encoding": {"x": {"value": "width"}, "y": {"field": "r", "type": "nominal", "scale": {"type": "band", "domain": ["t0","t","n","MMP-2","MMP-9","IL-10","TNF-α","TGF-β","IL-1β","sp","Total"], "paddingInner": 0, "paddingOuter": 0}, "axis": null}, "text": {"field": "r"}}},
  {"width": {"step": 11.4}, "height": {"step": 11.5},
   "data": {"name": "cells"},
   "encoding": {
    "x": {"field": "c", "type": "nominal", "scale": {"domain": ["N1","N2","N3","N4","N5","N6","N7","N8","N9","N10","g","M1","M2","M3","M4","M5","M6","M7","M8","M9","M10","br0","br"], "paddingInner": 0, "paddingOuter": 0}, "axis": null},
    "y": {"field": "r", "type": "nominal", "scale": {"type": "band", "domain": ["t0","t","n","MMP-2","MMP-9","IL-10","TNF-α","TGF-β","IL-1β","sp","Total"], "paddingInner": 0, "paddingOuter": 0}, "axis": null}
   },
   "layer": [
    {"transform": [{"filter": "datum.p === 'C'"}], "mark": {"type": "rect", "stroke": "#858585", "strokeWidth": 0.8},
     "encoding": {"fill": {"field": "v", "type": "nominal", "legend": null, "scale": {"domain": ["L","R","I","M"], "range": ["#ffffff","#a6a6a6","#000000","#000000"]},
       "condition": {"test": "datum.v === 'M'", "value": {"gradient": "linear", "x1": 0, "y1": 0, "x2": 1, "y2": 0, "stops": [{"offset":0,"color":"#000"},{"offset":0.25,"color":"#000"},{"offset":0.25,"color":"#fff"},{"offset":0.5,"color":"#fff"},{"offset":0.5,"color":"#000"},{"offset":0.75,"color":"#000"},{"offset":0.75,"color":"#fff"},{"offset":1,"color":"#fff"}]}}}}},
    {"transform": [{"filter": "datum.p === 'C' && datum.v === 'M'"}], "mark": {"type": "rect", "blend": "difference", "strokeWidth": 0},
     "encoding": {"fill": {"value": {"gradient": "linear", "x1": 0, "y1": 0, "x2": 0, "y2": 1, "stops": [{"offset":0,"color":"#000"},{"offset":0.25,"color":"#000"},{"offset":0.25,"color":"#fff"},{"offset":0.5,"color":"#fff"},{"offset":0.5,"color":"#000"},{"offset":0.75,"color":"#000"},{"offset":0.75,"color":"#fff"},{"offset":1,"color":"#fff"}]}}}},
    {"data": {"name": "cols"}, "transform": [{"filter": "datum.p === 'C'"}], "mark": {"type": "text", "fontSize": 9, "fill": "#333", "baseline": "middle"}, "encoding": {"y": {"datum": "n", "bandPosition": 0.55, "axis": null}, "text": {"field": "n"}}},
    {"data": {"values": [{"label": "Neutrophils", "mid": "N5", "from": "N1", "to": "N10"}, {"label": "Monocytes", "mid": "M5", "from": "M1", "to": "M10"}]},
     "layer": [
      {"mark": {"type": "text", "fontSize": 12, "baseline": "alphabetic", "dy": -3.2, "fill": "#333"}, "encoding": {"x": {"field": "mid", "type": "nominal", "bandPosition": 1, "axis": null}, "y": {"datum": "t", "bandPosition": 0.65, "axis": null}, "text": {"field": "label"}}},
      {"mark": {"type": "rule", "stroke": "#999", "strokeWidth": 1}, "encoding": {"x": {"field": "from", "type": "nominal", "bandPosition": 0.25, "axis": null}, "x2": {"field": "to", "bandPosition": 0.65}, "y": {"datum": "t", "bandPosition": 0.65, "axis": null}}}
     ]},
    {"data": {"values": [{"b": "}"}]}, "mark": {"type": "text", "fontSize": 18, "fill": "#777", "align": "left", "baseline": "middle"}, "encoding": {"x": {"datum": "br", "bandPosition": 0, "axis": null}, "y": {"datum": "Total", "bandPosition": 0.5, "axis": null}, "text": {"field": "b"}}}
   ]},
  {"vconcat": [
   {"width": 99.6, "height": 57.5, "data": {"values": []}, "mark": "point"},
   {"width": 99.6, "height": 100, "data": {"name": "pies"}, "transform": [{"filter": "datum.p === 'C'"}],
    "layer": [
     {"mark": {"type": "arc", "outerRadius": 38, "stroke": "#555", "strokeWidth": 0.8},
      "encoding": {"theta": {"field": "pct", "type": "quantitative", "stack": true}, "order": {"field": "o", "type": "quantitative"},
       "fill": {"field": "v", "type": "nominal", "legend": null, "scale": {"domain": ["L","R","I","M"], "range": ["#ffffff","#a6a6a6","#000000","#000000"]},
        "condition": {"test": "datum.v === 'M'", "value": {"gradient": "linear", "x1": 0, "y1": 0, "x2": 1, "y2": 0, "stops": [{"offset":0,"color":"#000"},{"offset":0.0714,"color":"#000"},{"offset":0.0714,"color":"#fff"},{"offset":0.1429,"color":"#fff"},{"offset":0.1429,"color":"#000"},{"offset":0.2143,"color":"#000"},{"offset":0.2143,"color":"#fff"},{"offset":0.2857,"color":"#fff"},{"offset":0.2857,"color":"#000"},{"offset":0.3571,"color":"#000"},{"offset":0.3571,"color":"#fff"},{"offset":0.4286,"color":"#fff"},{"offset":0.4286,"color":"#000"},{"offset":0.5,"color":"#000"},{"offset":0.5,"color":"#fff"},{"offset":0.5714,"color":"#fff"},{"offset":0.5714,"color":"#000"},{"offset":0.6429,"color":"#000"},{"offset":0.6429,"color":"#fff"},{"offset":0.7143,"color":"#fff"},{"offset":0.7143,"color":"#000"},{"offset":0.7857,"color":"#000"},{"offset":0.7857,"color":"#fff"},{"offset":0.8571,"color":"#fff"},{"offset":0.8571,"color":"#000"},{"offset":0.9286,"color":"#000"},{"offset":0.9286,"color":"#fff"},{"offset":1,"color":"#fff"}]}}}}},
     {"mark": {"type": "arc", "outerRadius": 38, "blend": "difference", "strokeWidth": 0},
      "encoding": {"theta": {"field": "pct", "type": "quantitative", "stack": true}, "order": {"field": "o", "type": "quantitative"},
       "fill": {"condition": {"test": "datum.v === 'M'", "value": {"gradient": "linear", "x1": 0, "y1": 0, "x2": 0, "y2": 1, "stops": [{"offset":0,"color":"#000"},{"offset":0.0357,"color":"#000"},{"offset":0.0357,"color":"#fff"},{"offset":0.0714,"color":"#fff"},{"offset":0.0714,"color":"#000"},{"offset":0.1071,"color":"#000"},{"offset":0.1071,"color":"#fff"},{"offset":0.1429,"color":"#fff"},{"offset":0.1429,"color":"#000"},{"offset":0.1786,"color":"#000"},{"offset":0.1786,"color":"#fff"},{"offset":0.2143,"color":"#fff"},{"offset":0.2143,"color":"#000"},{"offset":0.25,"color":"#000"},{"offset":0.25,"color":"#fff"},{"offset":0.2857,"color":"#fff"},{"offset":0.2857,"color":"#000"},{"offset":0.3214,"color":"#000"},{"offset":0.3214,"color":"#fff"},{"offset":0.3571,"color":"#fff"},{"offset":0.3571,"color":"#000"},{"offset":0.3929,"color":"#000"},{"offset":0.3929,"color":"#fff"},{"offset":0.4286,"color":"#fff"},{"offset":0.4286,"color":"#000"},{"offset":0.4643,"color":"#000"},{"offset":0.4643,"color":"#fff"},{"offset":0.5,"color":"#fff"},{"offset":0.5,"color":"#000"},{"offset":0.5357,"color":"#000"},{"offset":0.5357,"color":"#fff"},{"offset":0.5714,"color":"#fff"},{"offset":0.5714,"color":"#000"},{"offset":0.6071,"color":"#000"},{"offset":0.6071,"color":"#fff"},{"offset":0.6429,"color":"#fff"},{"offset":0.6429,"color":"#000"},{"offset":0.6786,"color":"#000"},{"offset":0.6786,"color":"#fff"},{"offset":0.7143,"color":"#fff"},{"offset":0.7143,"color":"#000"},{"offset":0.75,"color":"#000"},{"offset":0.75,"color":"#fff"},{"offset":0.7857,"color":"#fff"},{"offset":0.7857,"color":"#000"},{"offset":0.8214,"color":"#000"},{"offset":0.8214,"color":"#fff"},{"offset":0.8571,"color":"#fff"},{"offset":0.8571,"color":"#000"},{"offset":0.8929,"color":"#000"},{"offset":0.8929,"color":"#fff"},{"offset":0.9286,"color":"#fff"},{"offset":0.9286,"color":"#000"},{"offset":0.9643,"color":"#000"},{"offset":0.9643,"color":"#fff"},{"offset":1,"color":"#fff"}]}}, "value": "transparent"}}},
     {"mark": {"type": "text", "radius": 24, "fontSize": 10, "fill": "#fff", "stroke": "#fff", "strokeWidth": 7}, "encoding": {"theta": {"field": "pct", "type": "quantitative", "stack": true}, "order": {"field": "o", "type": "quantitative"}, "text": {"field": "pct", "type": "quantitative", "format": ".0%"}, "opacity": {"condition": {"test": "datum.v === 'M'", "value": 1}, "value": 0}}},
     {"mark": {"type": "text", "radius": 24, "fontSize": 10}, "encoding": {"theta": {"field": "pct", "type": "quantitative", "stack": true}, "order": {"field": "o", "type": "quantitative"}, "text": {"field": "pct", "type": "quantitative", "format": ".0%"}, "fill": {"condition": {"test": "datum.v === 'I'", "value": "#ffffff"}, "value": "#333333"}, "opacity": {"condition": {"test": "datum.pct < 0.1", "value": 0}, "value": 1}}},
     {"transform": [{"filter": "datum.pct < 0.1"}], "mark": {"type": "text", "dx": -31, "dy": -41, "fontSize": 10, "fill": "#333", "baseline": "middle"}, "encoding": {"text": {"field": "pct", "type": "quantitative", "format": ".0%"}}}
    ]}
  ], "spacing": 0}
 ], "spacing": 0}
 ], "spacing": 136.1, "bounds": "flush"}
],
"spacing": 129.4,
"bounds": "flush"
}
